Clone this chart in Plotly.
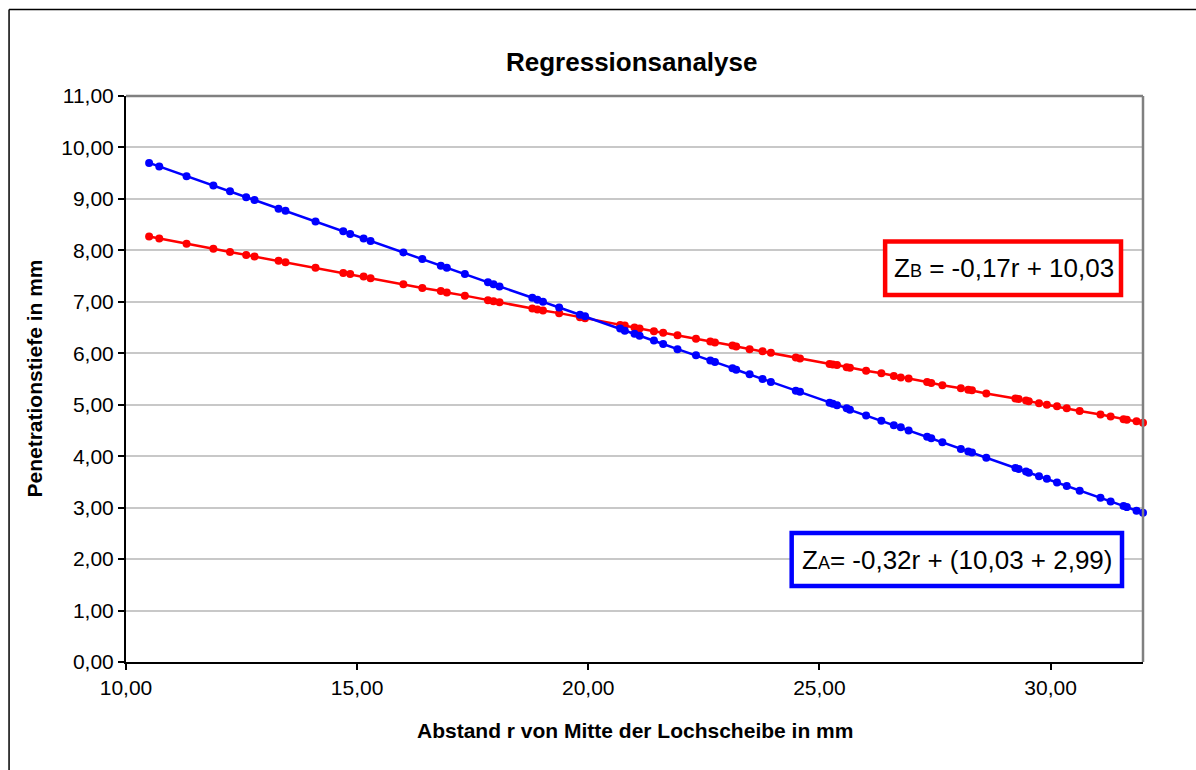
import plotly.graph_objects as go

# Data
r_values = [10.50, 10.72, 11.31, 11.89, 12.25, 12.60, 12.78, 13.30, 13.45, 14.10,
            14.70, 14.85, 15.14, 15.29, 16.00, 16.41, 16.81, 16.94, 17.33, 17.83,
            17.95, 18.08, 18.79, 18.90, 19.02, 19.37, 19.82, 19.93, 20.69, 20.79,
            21.00, 21.11, 21.42, 21.62, 21.93, 22.33, 22.64, 22.74, 23.12, 23.20,
            23.49, 23.77, 23.95, 24.49, 24.58, 25.22, 25.29, 25.38, 25.59, 25.66,
            26.01, 26.34, 26.61, 26.76, 26.93, 27.33, 27.42, 27.66, 28.06, 28.22,
            28.30, 28.61, 29.24, 29.31, 29.47, 29.53, 29.75, 29.92, 30.14, 30.35,
            30.63, 31.08, 31.30, 31.58, 31.65, 31.86, 32.00]

z_a = [9.70, 9.63, 9.44, 9.26, 9.15, 9.03, 8.98, 8.81, 8.77, 8.56,
       8.37, 8.32, 8.23, 8.18, 7.96, 7.83, 7.70, 7.66, 7.54, 7.38,
       7.34, 7.30, 7.08, 7.04, 7.00, 6.89, 6.75, 6.72, 6.48, 6.44,
       6.38, 6.34, 6.25, 6.18, 6.08, 5.96, 5.86, 5.83, 5.71, 5.68,
       5.59, 5.50, 5.44, 5.27, 5.25, 5.04, 5.02, 4.99, 4.93, 4.90,
       4.79, 4.69, 4.60, 4.56, 4.50, 4.38, 4.35, 4.27, 4.14, 4.09,
       4.07, 3.97, 3.77, 3.75, 3.70, 3.68, 3.61, 3.56, 3.49, 3.42,
       3.33, 3.19, 3.12, 3.03, 3.01, 2.94, 2.90]

z_b = [8.27, 8.23, 8.13, 8.03, 7.97, 7.91, 7.88, 7.80, 7.77, 7.66,
       7.56, 7.54, 7.49, 7.46, 7.34, 7.27, 7.21, 7.18, 7.12, 7.03,
       7.01, 6.99, 6.87, 6.85, 6.83, 6.78, 6.70, 6.68, 6.55, 6.54,
       6.50, 6.48, 6.43, 6.40, 6.35, 6.28, 6.23, 6.21, 6.15, 6.13,
       6.08, 6.04, 6.01, 5.92, 5.90, 5.79, 5.78, 5.77, 5.73, 5.72,
       5.66, 5.61, 5.56, 5.53, 5.51, 5.44, 5.42, 5.38, 5.32, 5.29,
       5.28, 5.22, 5.12, 5.11, 5.08, 5.07, 5.03, 5.00, 4.97, 4.93,
       4.88, 4.81, 4.77, 4.72, 4.71, 4.68, 4.65]

title_text = "Regressionsanalyse"
x_title = "Abstand r von Mitte der Lochscheibe in mm"
y_title = "Penetrationstiefe in mm"
eq_b = "Z<span style='font-size:18px'>B</span> = -0,17r + 10,03"
eq_a = "Z<span style='font-size:18px'>A</span>= -0,32r + (10,03 + 2,99)"

W, H = 1196, 770
L, R, T, B = 125.5, 1143.0, 96.0, 662.0
FONT = "Liberation Sans, Arial, sans-serif"


def px(x):
    return (x - L) / (R - L)


def py(y):
    return (B - y) / (B - T)


fig = go.Figure()
fig.add_trace(go.Scatter(x=r_values, y=z_b, mode="lines+markers",
                         line=dict(color="#FF0000", width=2.5),
                         marker=dict(color="#FF0000", size=8),
                         cliponaxis=False, showlegend=False))
fig.add_trace(go.Scatter(x=r_values, y=z_a, mode="lines+markers",
                         line=dict(color="#0000FF", width=2.5),
                         marker=dict(color="#0000FF", size=8),
                         cliponaxis=False, showlegend=False))

shapes = [
    # plot area top / right border (grey)
    dict(type="line", xref="paper", yref="paper", x0=0, x1=1, y0=1, y1=1,
         line=dict(color="#808080", width=2.5)),
    dict(type="line", xref="paper", yref="paper", x0=1, x1=1, y0=0, y1=1,
         line=dict(color="#808080", width=2.5)),
    # outer chart border (left and top visible)
    dict(type="line", xref="paper", yref="paper", x0=px(8.5), x1=px(8.5),
         y0=py(9.5), y1=py(H + 20), line=dict(color="black", width=1.5)),
    dict(type="line", xref="paper", yref="paper", x0=px(8.5), x1=px(W + 20),
         y0=py(9.5), y1=py(9.5), line=dict(color="black", width=1.5)),
    # equation boxes
    dict(type="rect", xref="paper", yref="paper", x0=px(885), x1=px(1121),
         y0=py(241.5), y1=py(295), line=dict(color="#FF0000", width=4.5),
         fillcolor="white", layer="above"),
    dict(type="rect", xref="paper", yref="paper", x0=px(791.5), x1=px(1122),
         y0=py(533), y1=py(586), line=dict(color="#0000FF", width=4.5),
         fillcolor="white", layer="above"),
]

annotations = [
    dict(text="<b>" + title_text + "</b>", xref="paper", yref="paper",
         x=px(631), y=py(62), showarrow=False, xanchor="center", yanchor="middle",
         font=dict(family=FONT, size=26, color="black")),
    dict(text="<b>" + x_title + "</b>", xref="paper", yref="paper",
         x=px(635), y=py(730), showarrow=False, xanchor="center", yanchor="middle",
         font=dict(family=FONT, size=21, color="black")),
    dict(text="<b>" + y_title + "</b>", xref="paper", yref="paper",
         x=px(33), y=py(379), showarrow=False, xanchor="center", yanchor="middle",
         textangle=-90, font=dict(family=FONT, size=21, color="black")),
    dict(text=eq_b, xref="paper", yref="paper",
         x=px(1003.5), y=py(268), showarrow=False, xanchor="center", yanchor="middle",
         font=dict(family=FONT, size=26, color="black")),
    dict(text=eq_a, xref="paper", yref="paper",
         x=px(957), y=py(560), showarrow=False, xanchor="center", yanchor="middle",
         font=dict(family=FONT, size=26, color="black")),
]

fig.update_layout(
    width=W, height=H,
    margin=dict(l=L, r=W - R, t=T, b=H - B, pad=0),
    paper_bgcolor="white", plot_bgcolor="white",
    separators=",.",
    font=dict(family=FONT, size=21, color="black"),
    shapes=shapes, annotations=annotations,
    xaxis=dict(range=[10, 32], tick0=10, dtick=5, tickformat=".2f",
               showgrid=False, zeroline=False, showline=True,
               linecolor="black", linewidth=2, ticks="outside", ticklen=6,
               tickcolor="black", tickwidth=1.5,
               tickfont=dict(family=FONT, size=21, color="black")),
    yaxis=dict(range=[0, 11], tick0=0, dtick=1, tickformat=".2f",
               showgrid=True, gridcolor="#C8C8C8", gridwidth=1.5,
               zeroline=False, showline=True,
               linecolor="black", linewidth=2, ticks="outside", ticklen=6,
               tickcolor="black", tickwidth=1.5,
               tickfont=dict(family=FONT, size=21, color="black")),
)

fig.write_html("out.html")
